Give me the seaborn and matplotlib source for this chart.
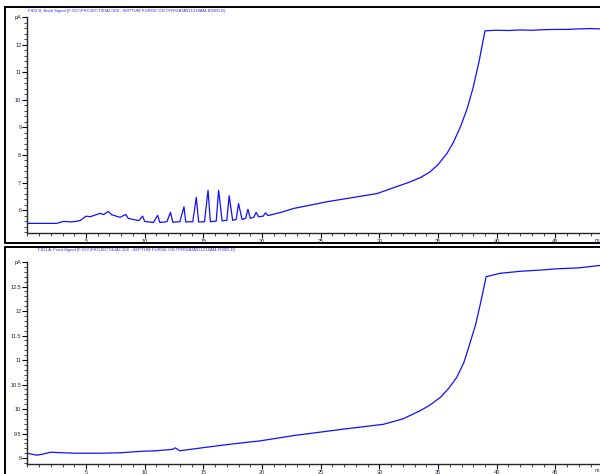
import numpy as np
import pandas as pd
import matplotlib
matplotlib.use("Agg")
import matplotlib.pyplot as plt
from matplotlib.lines import Line2D
from matplotlib.ticker import MultipleLocator
import seaborn as sns

# FID2 B back signal (top)
back_t = [0.0, 2.5, 3.1, 3.8, 4.5, 5.0, 5.35, 6.2, 6.5, 6.9, 7.2, 7.9, 8.4, 8.6,
          9.5, 9.83, 10.0, 10.75, 11.1, 11.3, 11.9, 12.2, 12.4, 13.0, 13.35, 13.5,
          14.1, 14.4, 14.6, 15.1, 15.4, 15.6, 16.1, 16.3, 16.6, 17.0, 17.2, 17.5,
          17.8, 18.0, 18.3, 18.6, 18.8, 19.0, 19.3, 19.5, 19.7, 20.1, 20.3, 20.5,
          21.8, 22.7, 25.5, 29.8, 31.0, 32.6, 33.5, 34.3, 35.0, 35.75, 36.3, 36.9,
          37.5, 38.0, 38.5, 39.0, 40.0, 41.0, 42.0, 43.0, 44.0, 45.0, 46.0, 47.0,
          48.0, 48.8]
back_v = [5.52, 5.52, 5.59, 5.57, 5.62, 5.78, 5.76, 5.88, 5.84, 5.95, 5.83, 5.74,
          5.84, 5.70, 5.62, 5.78, 5.59, 5.55, 5.81, 5.55, 5.58, 5.92, 5.56, 5.58,
          6.12, 5.57, 5.58, 6.46, 5.57, 5.58, 6.72, 5.58, 5.60, 6.72, 5.61, 5.63,
          6.52, 5.63, 5.66, 6.24, 5.66, 5.70, 6.03, 5.70, 5.74, 5.92, 5.76, 5.78,
          5.90, 5.80, 5.94, 6.06, 6.30, 6.60, 6.78, 7.02, 7.18, 7.38, 7.65, 8.05,
          8.45, 9.01, 9.70, 10.46, 11.40, 12.50, 12.52, 12.51, 12.53, 12.52, 12.54,
          12.55, 12.55, 12.57, 12.58, 12.57]

# FID1 A front signal (bottom)
front_t = [0.0, 0.4, 0.8, 1.3, 2.0, 4.0, 6.2, 8.0, 9.8, 11.0, 12.4, 12.6, 13.0,
           15.2, 17.5, 19.8, 22.7, 26.9, 30.35, 30.8, 32.0, 33.5, 34.3, 35.2, 35.9,
           36.6, 37.2, 37.7, 38.2, 38.6, 39.1, 40.3, 42.0, 44.0, 45.0, 47.0, 48.8]
front_v = [9.10, 9.08, 9.06, 9.08, 9.12, 9.10, 9.10, 9.11, 9.14, 9.15, 9.18, 9.21,
           9.15, 9.22, 9.29, 9.35, 9.46, 9.59, 9.69, 9.72, 9.80, 9.97, 10.08, 10.24,
           10.42, 10.65, 10.95, 11.33, 11.72, 12.14, 12.70, 12.77, 12.81, 12.84,
           12.86, 12.88, 12.93]

titles = [r"FID2 B, Back Signal (F:\GC\PROJECT\E\AC108 - SEPTUM PURGE ON TPR\DATA\D1218AM-B0305.D)",
          r"FID1 A, Front Signal (F:\GC\PROJECT\E\AC108 - SEPTUM PURGE ON TPR\DATA\D1218AM-F0305.D)"]
top_ticks = [6, 7, 8, 9, 10, 11, 12]
bot_ticks = [9, 9.5, 10, 10.5, 11, 11.5, 12, 12.5]

sns.set_style("ticks")
plt.rcParams['font.family'] = ['Liberation Sans Narrow', 'Liberation Sans', 'DejaVu Sans']

fig = plt.figure(figsize=(6, 4.74), dpi=100)
W, H = 600, 474

def fx(x):
    return x / W

def fy(y):
    return 1 - y / H

ax1 = fig.add_axes([fx(27.3), fy(233), 1 - fx(27.3), fy(17) - fy(233)])
ax2 = fig.add_axes([fx(27.3), fy(464), 1 - fx(27.3), fy(262) - fy(464)])

df1 = pd.DataFrame({"t": back_t, "v": back_v})
df2 = pd.DataFrame({"t": front_t, "v": front_v})
sns.lineplot(data=df1, x="t", y="v", ax=ax1, color="#1010ff", linewidth=0.9,
             estimator=None, sort=False)
sns.lineplot(data=df2, x="t", y="v", ax=ax2, color="#1010ff", linewidth=0.9,
             estimator=None, sort=False)

for ax, yl, ticks, minor in [(ax1, (5.17, 13.0), top_ticks, 0.2),
                             (ax2, (8.88, 13.0), bot_ticks, 0.1)]:
    ax.set_xlim(0, 48.8)
    ax.set_ylim(*yl)
    ax.set_xticks([5, 10, 15, 20, 25, 30, 35, 40, 45])
    ax.xaxis.set_minor_locator(MultipleLocator(1))
    ax.set_yticks(ticks + [13])
    ax.set_yticklabels([f"{t:g}" for t in ticks] + ["pA"])
    ax.yaxis.set_minor_locator(MultipleLocator(minor))
    ax.tick_params(which="major", length=3.5, width=0.8, labelsize=4, pad=0.8,
                   colors="black", labelcolor="#202040")
    ax.tick_params(which="minor", length=2, width=0.6)
    ax.set_xlabel("")
    ax.set_ylabel("")
    sns.despine(ax=ax)
    for s in ["left", "bottom"]:
        ax.spines[s].set_linewidth(1.0)
    ax.patch.set_alpha(0)

# unit label at right end of x axes
fig.text(fx(597), fy(241), "m", fontsize=4, ha="center", va="center", color="#202040")
fig.text(fx(597), fy(470), "m", fontsize=4, ha="center", va="center", color="#202040")

# panel titles
fig.text(fx(28), fy(11), titles[0], fontsize=3.1, color="#3030e0", ha="left", va="center")
fig.text(fx(38), fy(250), titles[1], fontsize=3.1, color="#3030e0", ha="left", va="center")

# outer frames of the two panels
kw = dict(color="black", linewidth=1.4, transform=fig.transFigure)
fig.add_artist(Line2D([fx(5), 1], [fy(7), fy(7)], **kw))
fig.add_artist(Line2D([fx(5), fx(5)], [fy(7), fy(243)], **kw))
fig.add_artist(Line2D([fx(5), 1], [fy(243), fy(243)], **kw))
fig.add_artist(Line2D([fx(5), 1], [fy(247), fy(247)], **kw))
fig.add_artist(Line2D([fx(5), fx(5)], [fy(247), 0], **kw))

fig.savefig("out.png", dpi=100)
